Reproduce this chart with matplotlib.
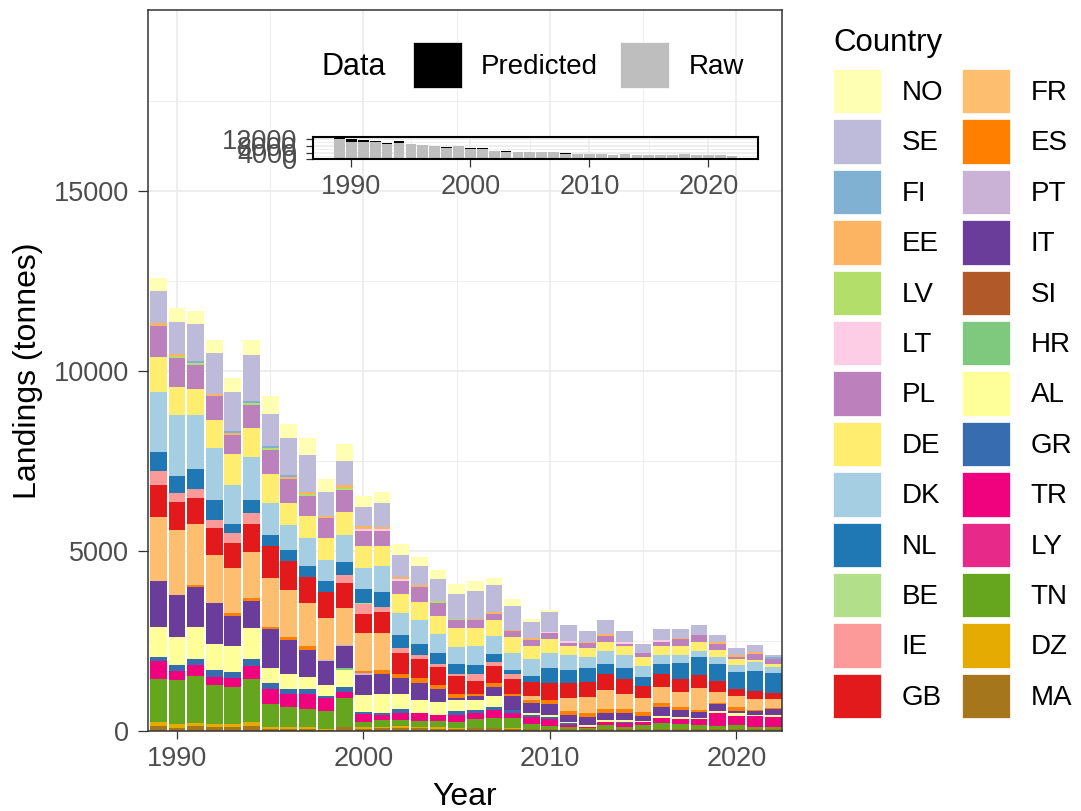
import matplotlib
matplotlib.use("Agg")
import matplotlib.pyplot as plt
import matplotlib.patches as mpatches
import numpy as np

plt.rcParams["font.family"] = ["Liberation Sans", "DejaVu Sans"]

YEARS = list(range(1989, 2023))

COUNTRIES = ["NO", "SE", "FI", "EE", "LV", "LT", "PL", "DE", "DK", "NL", "BE", "IE", "GB",
             "FR", "ES", "PT", "IT", "SI", "HR", "AL", "GR", "TR", "LY", "TN", "DZ", "MA"]

COLORS = ["#FFFFB3", "#BEBADA", "#80B1D3", "#FDB462", "#B3DE69", "#FCCDE5", "#BC80BD",
          "#FFED6F", "#A6CEE3", "#1F78B4", "#B2DF8A", "#FB9A99", "#E31A1C", "#FDBF6F",
          "#FF7F00", "#CAB2D6", "#6A3D9A", "#B15928", "#7FC97F", "#FFFF99", "#386CB0",
          "#F0027F", "#E7298A", "#66A61E", "#E6AB02", "#A6761D"]

# landings (tonnes), 1989..2022
NO = [350, 370, 370, 360, 370, 420, 490, 370, 470, 370, 490, 300, 305, 305, 260, 250, 295,
      280, 185, 185, 75, 45, 0, 0, 0, 0, 0, 0, 0, 0, 0, 0, 0, 0]
SE = [900, 905, 1020, 1160, 1085, 1285, 905, 1045, 1035, 665, 665, 535, 665, 600, 530, 620,
      675, 760, 740, 675, 465, 555, 455, 295, 370, 295, 230, 305, 240, 295, 185, 185, 185, 45]
FI = [0, 0, 55, 0, 55, 45, 45, 45, 0, 0, 0, 0, 0, 0, 0, 0, 0, 0, 0, 0, 0, 0, 0, 0, 0, 0, 0,
      0, 0, 0, 0, 0, 0, 55]
EE = [75, 55, 0, 45, 65, 0, 0, 45, 45, 55, 65, 75, 75, 45, 45, 0, 0, 45, 65, 45, 45, 0, 0,
      45, 65, 0, 0, 0, 45, 0, 45, 45, 65, 0]
LV = [0, 55, 65, 0, 0, 55, 65, 0, 65, 0, 55, 0, 0, 0, 0, 45, 45, 0, 0, 0, 0, 0, 0, 0, 0, 0,
      0, 0, 0, 0, 0, 0, 0, 0]
LT = [0, 0, 0, 0, 0, 0, 0, 0, 0, 0, 0, 45, 35, 65, 0, 0, 0, 0, 0, 0, 0, 45, 45, 0, 0, 45, 0,
      45, 0, 0, 0, 0, 0, 0]
PL = [850, 785, 675, 675, 535, 665, 665, 665, 555, 545, 620, 435, 425, 370, 435, 370, 230,
      215, 165, 155, 165, 165, 100, 140, 165, 75, 120, 120, 185, 185, 185, 75, 155, 140]
DE = [970, 785, 715, 785, 850, 785, 785, 610, 600, 610, 650, 600, 555, 535, 490, 490, 510,
      510, 435, 445, 370, 370, 250, 250, 250, 250, 260, 250, 250, 250, 185, 155, 75, 75]
DK = [1685, 1695, 1510, 1435, 1085, 1205, 905, 715, 785, 600, 740, 600, 715, 600, 650, 535,
      465, 510, 520, 465, 480, 435, 415, 285, 350, 350, 295, 230, 230, 165, 185, 185, 230, 175]
NL = [535, 480, 555, 555, 240, 370, 295, 305, 305, 295, 350, 370, 415, 370, 325, 295, 295,
      250, 205, 130, 140, 415, 370, 390, 305, 315, 250, 305, 435, 490, 480, 490, 555, 555]
BE = [0, 0, 0, 0, 0, 0, 0, 0, 0, 0, 0, 45, 0, 0, 0, 0, 0, 0, 0, 0, 0, 0, 0, 0, 0, 0, 0, 0,
      0, 0, 0, 0, 0, 0]
IE = [370, 250, 250, 230, 295, 295, 0, 0, 0, 0, 230, 260, 140, 120, 110, 110, 45, 215, 110,
      120, 0, 0, 0, 0, 0, 0, 0, 0, 0, 0, 0, 0, 0, 0]
GB = [900, 785, 720, 740, 675, 785, 905, 785, 720, 720, 685, 535, 600, 595, 535, 490, 510,
      345, 490, 415, 415, 465, 415, 415, 435, 415, 350, 360, 350, 360, 305, 185, 230, 165]
FR = [1760, 1805, 1685, 1345, 1270, 1280, 1345, 1315, 1195, 1160, 1030, 1065, 1020, 0, 0, 0,
      0, 0, 0, 0, 95, 0, 345, 465, 535, 425, 370, 425, 415, 610, 305, 315, 295, 260]
ES = [0, 0, 65, 0, 65, 65, 65, 75, 120, 0, 0, 55, 110, 120, 120, 120, 120, 75, 110, 65, 75,
      120, 120, 110, 110, 110, 120, 130, 95, 65, 45, 95, 30, 30]
PT = [0, 0, 0, 0, 0, 0, 0, 0, 0, 45, 45, 45, 0, 0, 0, 0, 0, 0, 0, 0, 0, 0, 0, 0, 0, 0, 0, 0,
      0, 0, 0, 0, 0, 0]
IT = [1280, 1160, 1095, 1130, 845, 770, 1075, 970, 740, 665, 600, 555, 555, 435, 480, 345,
      45, 95, 240, 380, 280, 295, 185, 215, 185, 185, 130, 240, 205, 155, 175, 75, 120, 155]
SI = [0] * 34
HR = [0, 0, 0, 0, 0, 0, 0, 0, 0, 0, 65, 0, 0, 0, 0, 0, 0, 0, 0, 0, 0, 0, 0, 0, 0, 0, 0, 0,
      0, 0, 0, 0, 0, 0]
AL = [835, 770, 905, 720, 730, 860, 415, 415, 350, 295, 480, 480, 520, 425, 370, 370, 295,
      280, 295, 0, 65, 65, 45, 45, 45, 45, 45, 65, 55, 55, 55, 75, 30, 45]
GR = [130, 185, 175, 185, 165, 175, 185, 130, 130, 75, 120, 45, 65, 110, 0, 0, 120, 95, 110,
      95, 65, 45, 45, 0, 0, 45, 0, 0, 0, 0, 0, 0, 0, 0]
TR = [490, 250, 305, 230, 250, 370, 415, 370, 425, 350, 185, 230, 140, 185, 205, 155, 185,
      165, 215, 140, 185, 195, 65, 45, 95, 95, 75, 120, 130, 155, 370, 250, 295, 280]
LY = [0] * 34
TN = [1185, 1215, 1280, 1085, 1020, 1185, 620, 535, 500, 490, 785, 140, 185, 165, 165, 185,
      185, 250, 280, 280, 150, 95, 55, 30, 120, 75, 120, 185, 150, 120, 95, 120, 75, 75]
DZ = [120, 95, 95, 75, 75, 120, 55, 55, 45, 30, 0, 45, 45, 65, 45, 35, 30, 0, 0, 30, 0, 0,
      0, 0, 0, 0, 0, 0, 0, 0, 0, 0, 0, 0]
MA = [140, 95, 140, 120, 120, 140, 65, 65, 55, 35, 120, 65, 75, 75, 75, 65, 45, 75, 75, 45,
      45, 45, 45, 45, 45, 45, 45, 45, 45, 45, 45, 45, 45, 45]

LANDINGS = [NO, SE, FI, EE, LV, LT, PL, DE, DK, NL, BE, IE, GB, FR, ES, PT, IT, SI, HR, AL,
            GR, TR, LY, TN, DZ, MA]

# inset: part of each year's total that was predicted
PREDICTED = [600, 1700, 1700, 700, 500, 1300, 400, 300, 300, 300, 300, 300, 300, 300, 300,
             0, 0, 0, 0, 400, 0, 0, 0, 0, 0, 0, 0, 0, 0, 0, 0, 0, 0, 300]

TEXT_COL = "#4D4D4D"
GRID_COL = "#EBEBEB"
AXIS_COL = "#333333"


def style_axis(ax, ylen=7.2):
    for sp in ax.spines.values():
        sp.set_color(AXIS_COL)
        sp.set_linewidth(1.1)
    ax.tick_params(axis="both", which="major", direction="out", width=0.9,
                   color=AXIS_COL, labelcolor=TEXT_COL, labelsize=19.5)
    ax.tick_params(axis="x", which="major", length=5.4, pad=5.5)
    ax.tick_params(axis="y", which="major", length=ylen, pad=6.5)
    ax.tick_params(axis="both", which="minor", length=0)
    ax.grid(True, which="major", color=GRID_COL, linewidth=1.2)
    ax.grid(True, which="minor", color=GRID_COL, linewidth=0.6)
    ax.set_axisbelow(True)


fig = plt.figure(figsize=(10.81, 8.11), dpi=100)
ax = fig.add_axes([148 / 1081, 1 - 731 / 811, 634 / 1081, 721 / 811])

years = np.array(YEARS)
bottom = np.zeros(len(YEARS))
for name, col, vals in reversed(list(zip(COUNTRIES, COLORS, LANDINGS))):
    vals = np.array(vals, dtype=float)
    ax.bar(years, vals, bottom=bottom, width=0.9, color=col, linewidth=0)
    bottom += vals

ax.set_xlim(1988.45, 2022.45)
ax.set_ylim(0, 20030)
ax.set_xticks([1990, 2000, 2010, 2020])
ax.set_xticks([1995, 2005, 2015], minor=True)
ax.set_yticks([0, 5000, 10000, 15000])
ax.set_yticks([2500, 7500, 12500, 17500], minor=True)
style_axis(ax)
ax.set_xlabel("Year", fontsize=23, labelpad=7)
ax.set_ylabel("Landings (tonnes)", fontsize=23, labelpad=8)

# inset: raw vs predicted totals
total = bottom
predicted = np.array(PREDICTED, dtype=float)
raw = total - predicted
ax_in = fig.add_axes([313.3 / 1081, 1 - 159.3 / 811, 444.4 / 1081, 22.3 / 811])
ax_in.bar(years, raw, width=0.9, color="#BEBEBE", linewidth=0)
ax_in.bar(years, predicted, bottom=raw, width=0.9, color="black", linewidth=0)
ax_in.set_xlim(1986.8, 2024.15)
ax_in.set_ylim(0, 13200)
ax_in.set_xticks([1990, 2000, 2010, 2020])
ax_in.set_xticks([1995, 2005, 2015], minor=True)
ax_in.set_yticks([0, 4000, 8000, 12000])
ax_in.set_yticks([2000, 6000, 10000], minor=True)
style_axis(ax_in, ylen=5.2)
for sp in ax_in.spines.values():
    sp.set_color("black")
    sp.set_linewidth(1.5)

# Data legend
fig.text(322 / 1081, 1 - 67 / 811, "Data", fontsize=22, ha="left", va="center")
data_handles = [mpatches.Patch(facecolor="black", edgecolor="white", linewidth=0.5),
                mpatches.Patch(facecolor="#BEBEBE", edgecolor="white", linewidth=0.5)]
fig.legend(data_handles, ["Predicted", "Raw"], ncol=2, loc="center left",
           bbox_to_anchor=(413 / 1081, 1 - 65 / 811), frameon=False, fontsize=20,
           handlelength=1.77, handleheight=2.17, handletextpad=0.68, columnspacing=0.8,
           borderpad=0, borderaxespad=0)

# Country legend
handles = [mpatches.Patch(facecolor=c, edgecolor="white", linewidth=0.5) for c in COLORS]
leg = fig.legend(handles, COUNTRIES, ncol=2, loc="upper left",
                 bbox_to_anchor=(833 / 1081, 1 - 28 / 811), frameon=False, fontsize=20,
                 title="Country", title_fontsize=22.5, alignment="left",
                 handlelength=1.73, handleheight=2.08, labelspacing=0.217,
                 handletextpad=0.75, columnspacing=0.65, borderpad=0, borderaxespad=0)
leg._legend_box.sep = 8.0  # a bit more room under the title

fig.savefig("out.png", dpi=100)
